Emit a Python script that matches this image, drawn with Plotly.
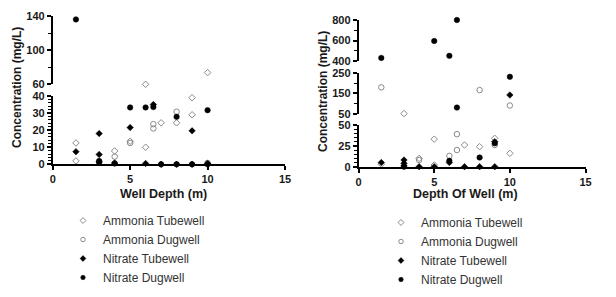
import plotly.graph_objects as go

W, H = 616, 297

series_names = ["Ammonia Tubewell", "Ammonia Dugwell", "Nitrate Tubewell", "Nitrate Dugwell"]

# ---- Left chart: Well Depth (m) vs concentration ----
L_amm_tube_x = [1.5, 1.5, 4, 5, 6, 6, 7, 8, 9, 9, 10]
L_amm_tube_y = [2, 12.5, 7.8, 13.5, 60, 10, 24.3, 24.3, 39, 29, 73.7]
L_amm_dug_x = [4, 5, 6.5, 6.5, 8, 10]
L_amm_dug_y = [4.5, 12.5, 23.5, 21, 30.8, 0.8]
L_nit_tube_x = [1.5, 3, 3, 3, 4, 5, 6, 6.5, 7, 8, 9, 9, 10]
L_nit_tube_y = [7.4, 18, 5.8, 1.5, 0.8, 21.5, 0.5, 35, 0, 0, 19.6, 0, 0.5]
L_nit_dug_x = [1.5, 3, 3, 4, 5, 6, 6.5, 8, 10, 7, 8, 9, 10]
L_nit_dug_y = [136, 1, 2, 0.5, 33.3, 33.3, 33.5, 27.8, 31.7, 0, 0, 0, 0]

# ---- Right chart: Depth Of Well (m) vs concentration ----
R_amm_tube_x = [1.5, 3, 4, 5, 5, 7, 8, 9, 10]
R_amm_tube_y = [3, 52, 10, 33, 2, 26, 24, 34, 16]
R_amm_dug_x = [1.5, 4, 6, 6.5, 6.5, 8, 9, 10]
R_amm_dug_y = [179, 8, 13, 39, 20, 166, 26, 91]
R_nit_tube_x = [1.5, 3, 3, 3, 4, 5, 6, 7, 8, 9, 9, 10]
R_nit_tube_y = [5, 8, 4, 1, 0, 0, 5, 0, 0, 0, 30, 142]
R_nit_dug_x = [1.5, 3, 5, 6, 6, 6.5, 6.5, 8, 9, 10]
R_nit_dug_y = [430, 0, 595, 450, 7, 800, 81, 11, 28, 230]

x_ticks = [0, 5, 10, 15]

L_segments = [(0, 40), (60, 140)]
L_seg_ticks = [[0, 10, 20, 30, 40], [60, 100, 140]]
L_seg_minor = [2, 20]
R_segments = [(0, 50), (50, 250), (400, 800)]
R_seg_ticks = [[0, 25, 50], [50, 150, 250], [400, 600, 800]]
R_seg_minor = [5, 50, 100]

styles = [
    dict(symbol="diamond-open", size=5, color="#8a8a8a", line=dict(width=1, color="#8a8a8a")),
    dict(symbol="circle-open", size=5.5, color="#8a8a8a", line=dict(width=1, color="#8a8a8a")),
    dict(symbol="diamond", size=5, color="#000000", line=dict(width=0.5, color="#000000")),
    dict(symbol="circle", size=5.5, color="#000000", line=dict(width=0.5, color="#000000")),
]

def px_x(p):
    return p / W

def px_y(p):
    return (H - p) / H

fig = go.Figure()

tick_font = dict(family="Liberation Sans, Arial", size=11, color="#1a1a1a", weight="bold")
axis_common = dict(showgrid=False, zeroline=False, showline=True, linecolor="#000",
                   linewidth=1.6, ticks="outside", ticklen=4, tickwidth=1.5, tickcolor="#000",
                   tickfont=tick_font, automargin=False)

def add_chart(data, segments, seg_ticks, seg_minor, xname, yname_start, x_dom, y_doms, legend_name):
    yids = []
    for k, (lo, hi) in enumerate(segments):
        yi = yname_start + k
        yids.append(yi)
        key = "yaxis" if yi == 1 else f"yaxis{yi}"
        fig.layout[key] = dict(domain=list(y_doms[k]), range=[lo, hi], anchor=xname,
                               tickvals=seg_ticks[k],
                               minor=dict(dtick=seg_minor[k], ticks="outside", ticklen=2.5,
                                          tickwidth=1, tickcolor="#000"),
                               **axis_common)
    xkey = "xaxis" if xname == "x" else "xaxis" + xname[1:]
    fig.layout[xkey] = dict(domain=list(x_dom), range=[0, 15], anchor=("y" if yids[0] == 1 else f"y{yids[0]}"),
                            tickvals=x_ticks, **axis_common)
    for s, (xs, ys) in enumerate(data):
        for k, (lo, hi) in enumerate(segments):
            pts = [(a, b) for a, b in zip(xs, ys) if lo <= b <= hi and not (k > 0 and b == lo and b <= segments[k - 1][1])]
            if not pts:
                continue
            yi = yids[k]
            fig.add_trace(go.Scatter(
                x=[p[0] for p in pts], y=[p[1] for p in pts], mode="markers",
                marker=styles[s], xaxis=xname, yaxis=("y" if yi == 1 else f"y{yi}"),
                showlegend=False, cliponaxis=False, hoverinfo="skip"))
        # legend entry
        fig.add_trace(go.Scatter(
            x=[None], y=[None], mode="markers", name=series_names[s],
            marker=dict(styles[s], size=4.5), xaxis=xname, yaxis=("y" if yids[0] == 1 else f"y{yids[0]}"),
            legend=legend_name, legendgroup=legend_name + str(s), showlegend=True))

left_data = [(L_amm_tube_x, L_amm_tube_y), (L_amm_dug_x, L_amm_dug_y),
             (L_nit_tube_x, L_nit_tube_y), (L_nit_dug_x, L_nit_dug_y)]
right_data = [(R_amm_tube_x, R_amm_tube_y), (R_amm_dug_x, R_amm_dug_y),
              (R_nit_tube_x, R_nit_tube_y), (R_nit_dug_x, R_nit_dug_y)]

add_chart(left_data, L_segments, L_seg_ticks, L_seg_minor, "x", 1,
          (px_x(52.7), px_x(285)),
          [(px_y(164.3), px_y(96)), (px_y(84.3), px_y(16))], "legend")
add_chart(right_data, R_segments, R_seg_ticks, R_seg_minor, "x2", 3,
          (px_x(358.6), px_x(585.5)),
          [(px_y(166.7), px_y(125)), (px_y(114), px_y(72.7)), (px_y(61), px_y(20))], "legend2")

title_font = dict(family="Liberation Sans, Arial", size=12, color="#1a1a1a", weight="bold")
xt_font = dict(family="Liberation Sans, Arial", size=12.5, color="#1a1a1a", weight="bold")
annotations = [
    dict(text="Concentration (mg/L)", x=px_x(16.5), y=px_y(87.5), textangle=-90, font=title_font),
    dict(text="Concentration (mg/L)", x=px_x(322.5), y=px_y(91.5), textangle=-90, font=title_font),
    dict(text="Well Depth (m)", x=px_x(163), y=px_y(194), font=xt_font),
    dict(text="Depth Of Well (m)", x=px_x(466), y=px_y(194), font=xt_font),
]
for a in annotations:
    a.update(xref="paper", yref="paper", showarrow=False, xanchor="center", yanchor="middle")

leg_font = dict(family="Liberation Sans, Arial", size=12, color="#333333")
fig.update_layout(
    width=W, height=H, margin=dict(l=0, r=0, t=0, b=0, autoexpand=False),
    paper_bgcolor="white", plot_bgcolor="white",
    annotations=annotations,
    legend=dict(x=px_x(63), y=px_y(206), xanchor="left", yanchor="top", font=leg_font,
                tracegroupgap=0, bgcolor="rgba(0,0,0,0)", itemwidth=30),
    legend2=dict(x=px_x(381), y=px_y(208), xanchor="left", yanchor="top", font=leg_font,
                 tracegroupgap=0, bgcolor="rgba(0,0,0,0)", itemwidth=30),
)

fig.write_html("out.html", config={"displayModeBar": False},
               post_script="document.body.style.margin='0';document.body.style.overflow='hidden';")
